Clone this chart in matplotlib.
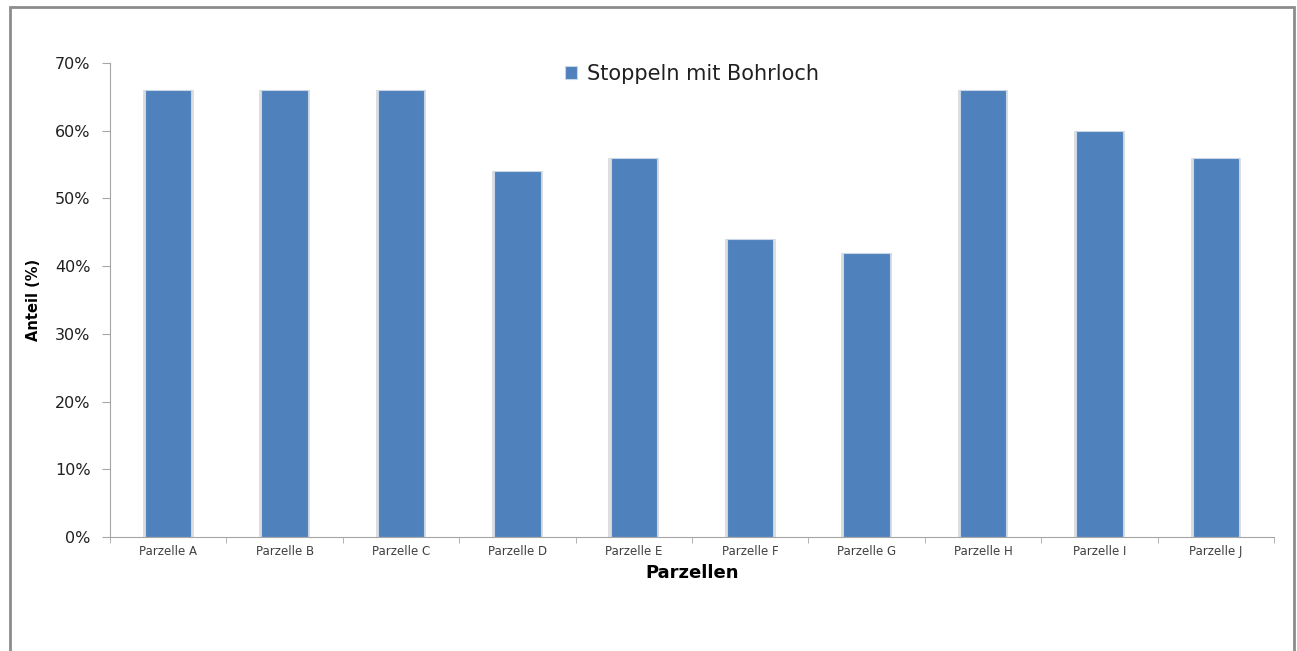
import numpy as np
import matplotlib.pyplot as plt
from matplotlib.patches import Rectangle
from matplotlib.ticker import PercentFormatter

# Anteil der Stoppeln mit Bohrloch je Parzelle
parzellen = ['Parzelle A', 'Parzelle B', 'Parzelle C', 'Parzelle D', 'Parzelle E',
             'Parzelle F', 'Parzelle G', 'Parzelle H', 'Parzelle I', 'Parzelle J']
anteil = [66, 66, 66, 54, 56, 44, 42, 66, 60, 56]

blau = '#4f81bd'
grau = '#a6a6a6'

fig = plt.figure(figsize=(12.97, 6.51), dpi=100)
ax = fig.add_axes([0.0848, 0.1751, 0.8975, 0.7281])

# Rahmen um das ganze Diagramm
fig.patches.append(Rectangle((10 / 1297, -0.01), 1284 / 1297, 1 - 7 / 651 + 0.01,
                             transform=fig.transFigure, fill=False,
                             edgecolor='#8c8c8c', linewidth=2))

x = np.arange(len(parzellen))
# leichter Schatten hinter den Balken
ax.bar(x, anteil, width=0.435, color='#dedede', zorder=1)
ax.bar(x, anteil, width=0.40, color=blau, edgecolor='#c9d6e8', linewidth=0.8,
       label='Stoppeln mit Bohrloch', zorder=2)

ax.set_xlim(-0.5, len(parzellen) - 0.5)
ax.set_ylim(0, 70)
ax.set_yticks(np.arange(0, 71, 10))
ax.yaxis.set_major_formatter(PercentFormatter(decimals=0))
ax.set_xticks(x)
ax.set_xticklabels(parzellen, fontsize=8.5, color='#404040')
ax.set_xticks(np.arange(-0.5, len(parzellen)), minor=True)
ax.tick_params(axis='x', which='major', length=0, pad=6)
ax.tick_params(axis='x', which='minor', length=4, color=grau, direction='out')
ax.tick_params(axis='y', length=6, color=grau, labelsize=11.5, pad=8,
               labelcolor='#202020')

for s in ['top', 'right']:
    ax.spines[s].set_visible(False)
ax.spines['left'].set_color(grau)
ax.spines['bottom'].set_color(grau)

ax.set_xlabel('Parzellen', fontsize=13, fontweight='bold', labelpad=4)
ax.set_ylabel('Anteil (%)', fontsize=10.5, fontweight='bold', labelpad=10)

leg = ax.legend(loc='upper center', bbox_to_anchor=(0.5, 1.038), frameon=False,
                fontsize=15, handlelength=0.55, handleheight=0.55, handletextpad=0.5)
for t in leg.get_texts():
    t.set_color('#202020')

fig.savefig('out.png', dpi=100)
